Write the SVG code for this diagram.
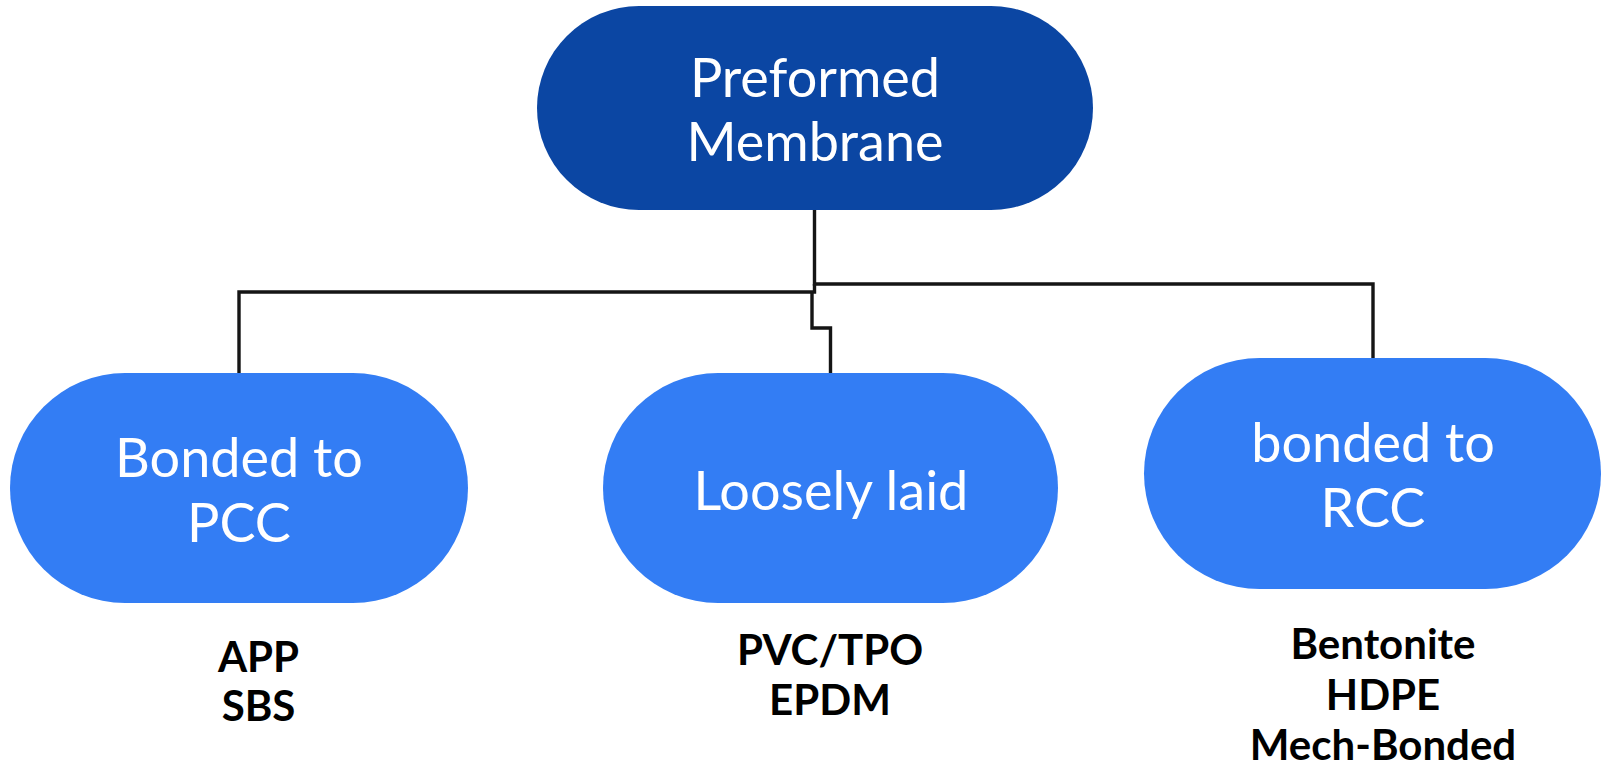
<svg xmlns="http://www.w3.org/2000/svg" width="1608" height="765" viewBox="0 0 1608 765">
<style>
.top{fill:#0b46a3}
.child{fill:#337df4}
.nt{font-family:Lato,"Liberation Sans",sans-serif;font-size:54px;fill:#ffffff;text-anchor:middle}
.lbl{font-family:Lato,"Liberation Sans",sans-serif;font-weight:bold;font-size:42px;fill:#000000;text-anchor:middle}
.conn{fill:none;stroke:#151515;stroke-width:3.4}
</style>
<rect width="1608" height="765" fill="#ffffff"/>
<g id="connectors">
<path class="conn" d="M814.5,209 V284 H1373 V358"/>
<path class="conn" d="M814.5,284 V292 H239 V373"/>
<path class="conn" d="M812,292 V328 H830.5 V373"/>
</g>
<g id="node-preformed">
<rect class="top" x="537" y="6" width="556" height="204" rx="102" ry="102"/>
<text class="nt" x="815" y="97">Preformed</text>
<text class="nt" x="815" y="161">Membrane</text>
</g>
<g id="node-pcc">
<rect class="child" x="10" y="373" width="458" height="230" rx="115" ry="115"/>
<text class="nt" x="239" y="477">Bonded to</text>
<text class="nt" x="239" y="542">PCC</text>
</g>
<g id="node-loose">
<rect class="child" x="603" y="373" width="455" height="230" rx="115" ry="115"/>
<text class="nt" x="831" y="510">Loosely laid</text>
</g>
<g id="node-rcc">
<rect class="child" x="1144" y="358" width="457" height="231" rx="115.5" ry="115.5"/>
<text class="nt" x="1373" y="462">bonded to</text>
<text class="nt" x="1373" y="527">RCC</text>
</g>
<g id="labels">
<text class="lbl" x="258.5" y="672">APP</text>
<text class="lbl" x="258.5" y="721">SBS</text>
<text class="lbl" x="830" y="665">PVC/TPO</text>
<text class="lbl" x="830" y="715">EPDM</text>
<text class="lbl" x="1383" y="659">Bentonite</text>
<text class="lbl" x="1383" y="710">HDPE</text>
<text class="lbl" x="1383" y="760">Mech-Bonded</text>
</g>
</svg>
